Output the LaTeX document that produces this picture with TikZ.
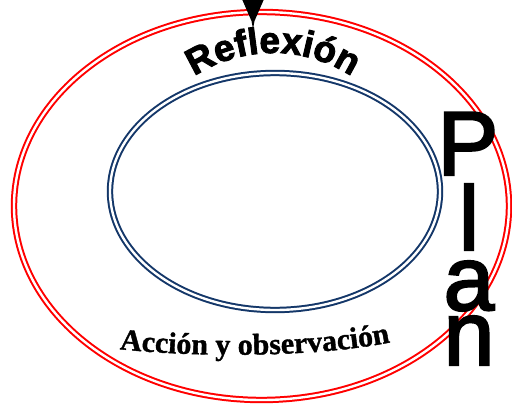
\documentclass[tikz,border=0pt]{standalone}
\usepackage{fontspec}
\setmainfont{Liberation Serif}
\newfontfamily\accfont{Liberation Serif}[FakeBold=1.2]
\newfontfamily\reflfont{Liberation Sans Bold}[FakeBold=2.5]
\newfontfamily\planfont{Liberation Sans}[FakeBold=2.5]
\usetikzlibrary{shapes.geometric,decorations.text}
\definecolor{ringred}{RGB}{255,0,0}
\definecolor{ringblue}{RGB}{20,55,105}
\begin{document}
\begin{tikzpicture}[x=1pt,y=-1pt,
  ring/.style={ellipse, draw, double, inner sep=0pt, line width=2pt, double distance=2.4pt},
  planletter/.style={anchor=base, inner sep=0pt, font=\planfont\fontsize{91}{91}\selectfont}]
\useasboundingbox (0,0) rectangle (512,407);
\node[ring, draw=ringred, minimum width=495pt, minimum height=388pt] (outer) at (261.5,206) {};
\node[ring, draw=ringblue, minimum width=330pt, minimum height=237pt] (inner) at (275,191.5) {};
% arrow head at top
\coordinate (arrtip) at (253,29);
\fill (arrtip) -- ++(-1.5,-8) -- ++(-10,-23) -- ++(23,0) -- ++(-10,23) -- cycle;
% Reflexion arched
\coordinate (rc) at (273,197);
\path[decorate, decoration={text along path, text align=center,
  text={|\reflfont\fontsize{37}{37}\selectfont|Reflexión}}]
  (rc) ++(200:144) arc[start angle=200, end angle=340, radius=144];
% Accion y observacion
\coordinate (as) at (118,349);
\coordinate (ac1) at (200,358);
\coordinate (ac2) at (320,357);
\coordinate (ae) at (392,342);
\path[decorate, decoration={text along path, text align=center,
  text={|\accfont\bfseries\fontsize{30}{30}\selectfont|Acción y observación}}]
  (as) .. controls (ac1) and (ac2) .. (ae);
% Plan
\node[planletter] (pP) at (468,175) {P};
\node[planletter] (pl) at (469,250) {l};
\node[planletter] (pa) at (469,310) {a};
\node[planletter] (pn) at (469,365) {n};
\end{tikzpicture}
\end{document}
